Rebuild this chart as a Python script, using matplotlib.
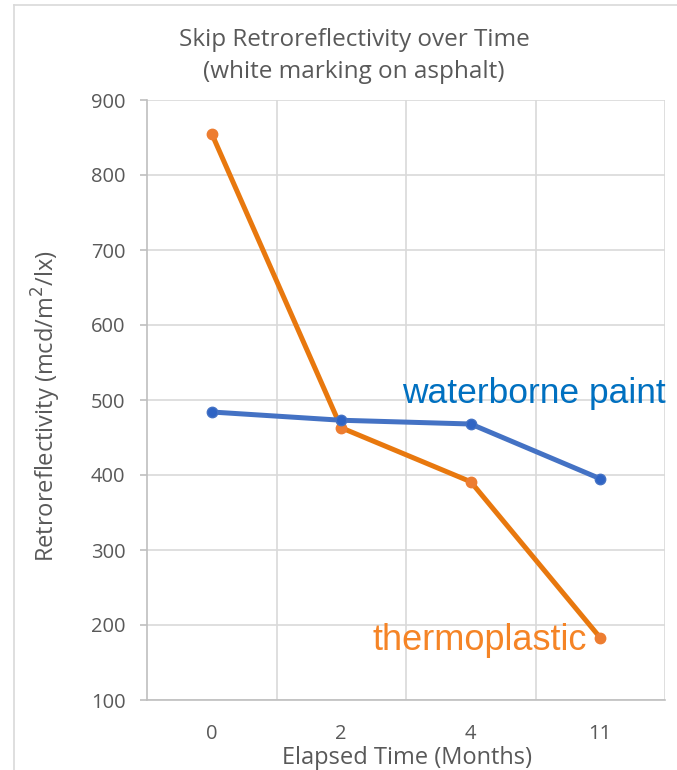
import matplotlib
matplotlib.use("Agg")
import matplotlib.pyplot as plt
from matplotlib.lines import Line2D

# retroreflectivity readings (mcd/m2/lx) at each inspection
months = ["0", "2", "4", "11"]
waterborne = [484, 473, 468, 395]
thermoplastic = [855, 463, 391, 183]

grey_text = "#595959"
grid_col = "#d9d9d9"
axis_col = "#bfbfbf"
ui_font = "Open Sans"

fig = plt.figure(figsize=(6.77, 7.70), dpi=100)
W, H = 677, 770
ax = fig.add_axes([147 / W, 1 - 700 / H, (665 - 147) / W, 600 / H])

x = list(range(len(months)))
ax.plot(x, thermoplastic, color="#E8780E", lw=3.6, marker="o", ms=7.5,
        mfc="#ED7D31", mec="#ED7D31", zorder=3, solid_capstyle="round")
ax.plot(x, waterborne, color="#4472C4", lw=3.6, marker="o", ms=7.5,
        mfc="#2F64C4", mec="#4472C4", zorder=4, solid_capstyle="round")

ax.set_xlim(-0.5, len(months) - 0.5)
ax.set_ylim(100, 900)
ax.set_yticks(range(100, 1000, 100))
ax.set_xticks(x)
ax.set_xticklabels(months)

# category gridlines sit between the points, like a category axis
for b in [0.5, 1.5, 2.5, 3.5]:
    ax.axvline(b, color=grid_col, lw=1.2, zorder=1)
ax.yaxis.grid(True, color=grid_col, lw=1.2, zorder=1)
ax.set_axisbelow(True)

for s in ["top", "right"]:
    ax.spines[s].set_visible(False)
ax.spines["left"].set_color(axis_col)
ax.spines["bottom"].set_color(axis_col)
ax.spines["left"].set_linewidth(1.2)
ax.spines["bottom"].set_linewidth(1.2)

ax.tick_params(axis="y", length=5, width=1.2, color=axis_col, labelcolor=grey_text,
               labelsize=14.5, pad=10.5)
ax.tick_params(axis="x", length=0, labelcolor=grey_text, labelsize=14.5, pad=17)
for lab in ax.get_xticklabels() + ax.get_yticklabels():
    lab.set_fontfamily(ui_font)

ax.set_ylabel("Retroreflectivity (mcd/m$^2$/lx)", fontsize=17, color=grey_text,
              family=ui_font)
ax.yaxis.set_label_coords(-0.163, 0.49)
ax.set_xlabel("Elapsed Time (Months)", fontsize=17, color=grey_text,
              family=ui_font)
ax.xaxis.set_label_coords(0.502, -0.077)

fig.text(354 / W, 1 - 56 / H, "Skip Retroreflectivity over Time\n(white marking on asphalt)",
         ha="center", va="center", fontsize=17.5, color=grey_text, family=ui_font,
         linespacing=1.4)

ax.text(1.47, 509, "waterborne paint", color="#0070C0", fontsize=25.5,
        family="Liberation Sans", va="center", ha="left")
ax.text(1.24, 180, "thermoplastic", color="#F58426", fontsize=26,
        family="Liberation Sans", va="center", ha="left")

# outer chart frame (left and top edges)
fig.add_artist(Line2D([14 / W, 14 / W], [0, 1 - 5 / H], transform=fig.transFigure,
                      color=grid_col, lw=1.2))
fig.add_artist(Line2D([14 / W, 1], [1 - 5 / H, 1 - 5 / H], transform=fig.transFigure,
                      color=grid_col, lw=1.2))

fig.savefig("out.png", dpi=100)
